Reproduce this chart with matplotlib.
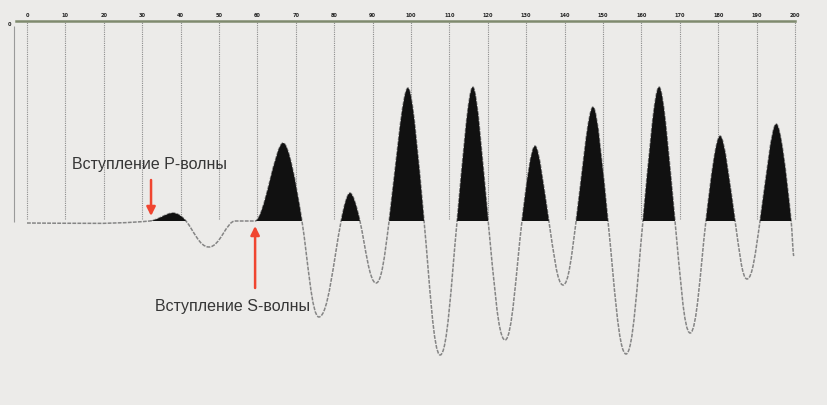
import numpy as np
import matplotlib
matplotlib.use("Agg")
import matplotlib.pyplot as plt
from matplotlib.path import Path
from matplotlib.patches import PathPatch, Rectangle


# time marks on the top scale
tick_times = list(range(0, 201, 10))
tick_labels = [str(t) for t in tick_times]

# key points of the trace: onsets, peaks, zero crossings, troughs
trace_t = [0, 32.0, 38.0, 41.4, 47.4, 54.2, 59.4, 66.7, 71.6, 76.0, 81.8, 84.1, 86.7,
           90.9, 94.3, 99.2, 103.4, 107.6, 112.0, 116.1, 120.1, 124.5, 128.9, 132.3,
           135.9, 139.6, 143.0, 147.4, 151.3, 156.0, 160.4, 164.6, 168.75, 172.7,
           176.8, 180.5, 184.4, 187.5, 190.9, 195.1, 199.0, 199.7]
trace_a = [-2, 0, 8, 0, -26, 0, 0, 78, 0, -96, 0, 28, 0,
           -62, 0, 133, 0, -134, 0, 134, 0, -119, 0, 75,
           0, -64, 0, 114, 0, -133, 0, 134, 0, -112,
           0, 85, 0, -58, 0, 97, 0, -35]

# arrivals (arrow tail, arrow head) and labels
p_arrow = [(32.3, 41), (32.3, 5)]
s_arrow = [(59.4, -67), (59.4, -5)]
p_label = "Вступление P-волны"
s_label = "Вступление S-волны"
p_label_pos = (11.7, 56)
s_label_pos = (33.3, -85)

bg = "#ecebe9"
fig = plt.figure(figsize=(8.27, 4.05), dpi=100, facecolor=bg)
ax = fig.add_axes([0, 0, 1, 384 / 405])
ax.set_facecolor(bg)
ax.set_xlim(-27 / 3.84, 800 / 3.84)
ax.set_ylim(-184, 200)

# trace drawn as bezier segments: straight-ish flanks, rounded tops, wider troughs
n = len(trace_t)
slopes = []
handles = []
for i in range(n):
    if i == 0 or i == n - 1:
        slopes.append(0.0)
        handles.append(0.33)
        continue
    a_prev, a_cur, a_next = trace_a[i - 1], trace_a[i], trace_a[i + 1]
    if a_cur >= a_prev and a_cur >= a_next:
        slopes.append(0.0)
        handles.append(0.28 if a_cur > 0 else 0.33)
    elif a_cur <= a_prev and a_cur <= a_next:
        slopes.append(0.0)
        handles.append(0.42 if a_cur < 0 else 0.33)
    else:
        slopes.append(1.3 * (a_next - a_prev) / (trace_t[i + 1] - trace_t[i - 1]))
        handles.append(0.35)

verts = [(trace_t[0], trace_a[0])]
codes = [Path.MOVETO]
for i in range(1, n):
    dt = trace_t[i] - trace_t[i - 1]
    h0, h1 = handles[i - 1] * dt, handles[i] * dt
    verts += [(trace_t[i - 1] + h0, trace_a[i - 1] + slopes[i - 1] * h0),
              (trace_t[i] - h1, trace_a[i] - slopes[i] * h1),
              (trace_t[i], trace_a[i])]
    codes += [Path.CURVE4] * 3

curve = Path(verts, codes)
ax.add_patch(PathPatch(curve, facecolor="none", edgecolor="#858585", lw=1.1,
                       linestyle=(0, (2.5, 0.8)), zorder=3))

# black fill of positive half-waves only (clipped above the baseline)
fill_path = Path(verts + [(trace_t[-1], 0), (trace_t[0], 0), (0, 0)],
                 codes + [Path.LINETO, Path.LINETO, Path.CLOSEPOLY])
fill = PathPatch(fill_path, facecolor="#111111", edgecolor="none", zorder=4)
ax.add_patch(fill)
clip = Rectangle((-10, 0), 230, 300, transform=ax.transData)
fill.set_clip_path(clip)

# dotted time lines down to the baseline
ax.vlines(tick_times, 2, 200, colors="#8c8c8c", lw=0.8, linestyles=(0, (1, 1)), zorder=1)
ax.vlines([-3.4], -1, 195, colors="#9a9a9a", lw=0.8, zorder=1)

# top scale
for s in ["left", "right", "bottom"]:
    ax.spines[s].set_visible(False)
ax.spines["top"].set_bounds(-2.8, 200)
ax.spines["top"].set_color("#7f8a6e")
ax.spines["top"].set_linewidth(1.8)
ax.xaxis.tick_top()
ax.set_xticks(tick_times)
ax.set_xticklabels(tick_labels, fontsize=3.6, fontweight="bold", color="#222222")
ax.tick_params(axis="x", length=0, pad=2)
ax.set_yticks([])
ax.text(-4.6, 197, "0", fontsize=3.6, fontweight="bold", color="#222222",
        ha="center", va="center")

# arrivals
for tail, head in [p_arrow, s_arrow]:
    ax.annotate("", xy=head, xytext=tail,
                arrowprops=dict(arrowstyle="-|>", color="#f04530", lw=1.8,
                                mutation_scale=13, shrinkA=0, shrinkB=0),
                zorder=6)

ax.text(*p_label_pos, p_label, fontsize=11.5, family="Liberation Sans",
        color="#363636", ha="left", va="center", zorder=6)
ax.text(*s_label_pos, s_label, fontsize=11.5, family="Liberation Sans",
        color="#363636", ha="left", va="center", zorder=6)

fig.savefig("out.png", dpi=100, facecolor=bg)
